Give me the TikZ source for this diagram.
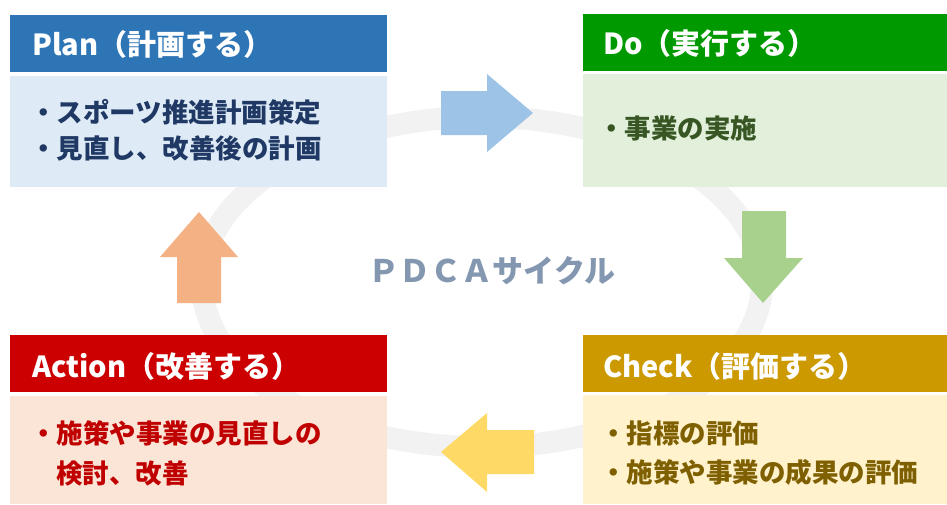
\documentclass[tikz,border=0pt]{standalone}
\usepackage{fontspec}
\setmainfont{Noto Sans CJK JP}
\definecolor{planhead}{HTML}{2E75B6}
\definecolor{planbody}{HTML}{DEEBF7}
\definecolor{plantext}{HTML}{1F3864}
\definecolor{dohead}{HTML}{009900}
\definecolor{dobody}{HTML}{E2EFDA}
\definecolor{dotext}{HTML}{375623}
\definecolor{checkhead}{HTML}{CC9900}
\definecolor{checkbody}{HTML}{FFF2CC}
\definecolor{checktext}{HTML}{7F6000}
\definecolor{acthead}{HTML}{CC0000}
\definecolor{actbody}{HTML}{FBE5D6}
\definecolor{acttext}{HTML}{C00000}
\definecolor{ringgray}{HTML}{F2F2F2}
\definecolor{arblue}{HTML}{9DC3E6}
\definecolor{argreen}{HTML}{A9D18E}
\definecolor{aryellow}{HTML}{FFD966}
\definecolor{arorange}{HTML}{F4B183}
\definecolor{centertext}{HTML}{8497B0}
\tikzset{
  headtext/.style={anchor=base west, inner sep=0pt, text=white, font=\fontsize{29}{33}\selectfont\bfseries},
  bodytext/.style={anchor=base west, inner sep=0pt, font=\fontsize{26.5}{36}\selectfont\bfseries}
}
\begin{document}
\begin{tikzpicture}[x=1pt,y=-1pt]
\useasboundingbox (0,0) rectangle (947,504);
% ring
\draw[ringgray, line width=22pt] (482,282) ellipse [x radius=280, y radius=165];
% Plan
\fill[planhead] (10,15) rectangle (387,72);
\fill[planbody] (10,76) rectangle (387,187);
\node[headtext] (planh) at (32,55) {Plan（計画する）};
\node[bodytext, text=plantext] (plan1) at (30,122) {・スポーツ推進計画策定};
\node[bodytext, text=plantext] (plan2) at (30,158) {・見直し、改善後の計画};
% Do
\fill[dohead] (583,14) rectangle (947,71);
\fill[dobody] (583,74) rectangle (947,187);
\node[headtext] (doh) at (603,54) {Do（実行する）};
\node[bodytext, text=dotext] (do1) at (598,138) {・事業の実施};
% Check
\fill[checkhead] (583,335) rectangle (947,392);
\fill[checkbody] (583,395) rectangle (947,504);
\node[headtext] (checkh) at (603,377) {Check（評価する）};
\node[bodytext, text=checktext] (check1) at (600,443) {・指標の評価};
\node[bodytext, text=checktext] (check2) at (600,482) {・施策や事業の成果の評価};
% Action
\fill[acthead] (10,335) rectangle (387,392);
\fill[actbody] (10,396) rectangle (387,504);
\node[headtext] (acth) at (32,377) {Action（改善する）};
\node[bodytext, text=acttext] (act1) at (30,443) {・施策や事業の見直しの};
\node[bodytext, text=acttext] (act2) at (56,483) {検討、改善};
% arrows
\fill[arblue] (441,91) -- (487,91) -- (487,74) -- (533,113) -- (487,152) -- (487,135) -- (441,135) -- cycle;
\fill[argreen] (742,211) -- (786,211) -- (786,258) -- (803,258) -- (763,303) -- (724,258) -- (742,258) -- cycle;
\fill[aryellow] (534,430) -- (487,430) -- (487,413) -- (441,452) -- (487,492) -- (487,474) -- (534,474) -- cycle;
\fill[arorange] (177,303) -- (221,303) -- (221,257) -- (238,257) -- (199,212) -- (160,257) -- (177,257) -- cycle;
% center
\node[anchor=base, inner sep=0pt, text=centertext, font=\fontsize{31}{36}\selectfont\bfseries] (pdca) at (492,282) {ＰＤＣＡサイクル};
\end{tikzpicture}
\end{document}
